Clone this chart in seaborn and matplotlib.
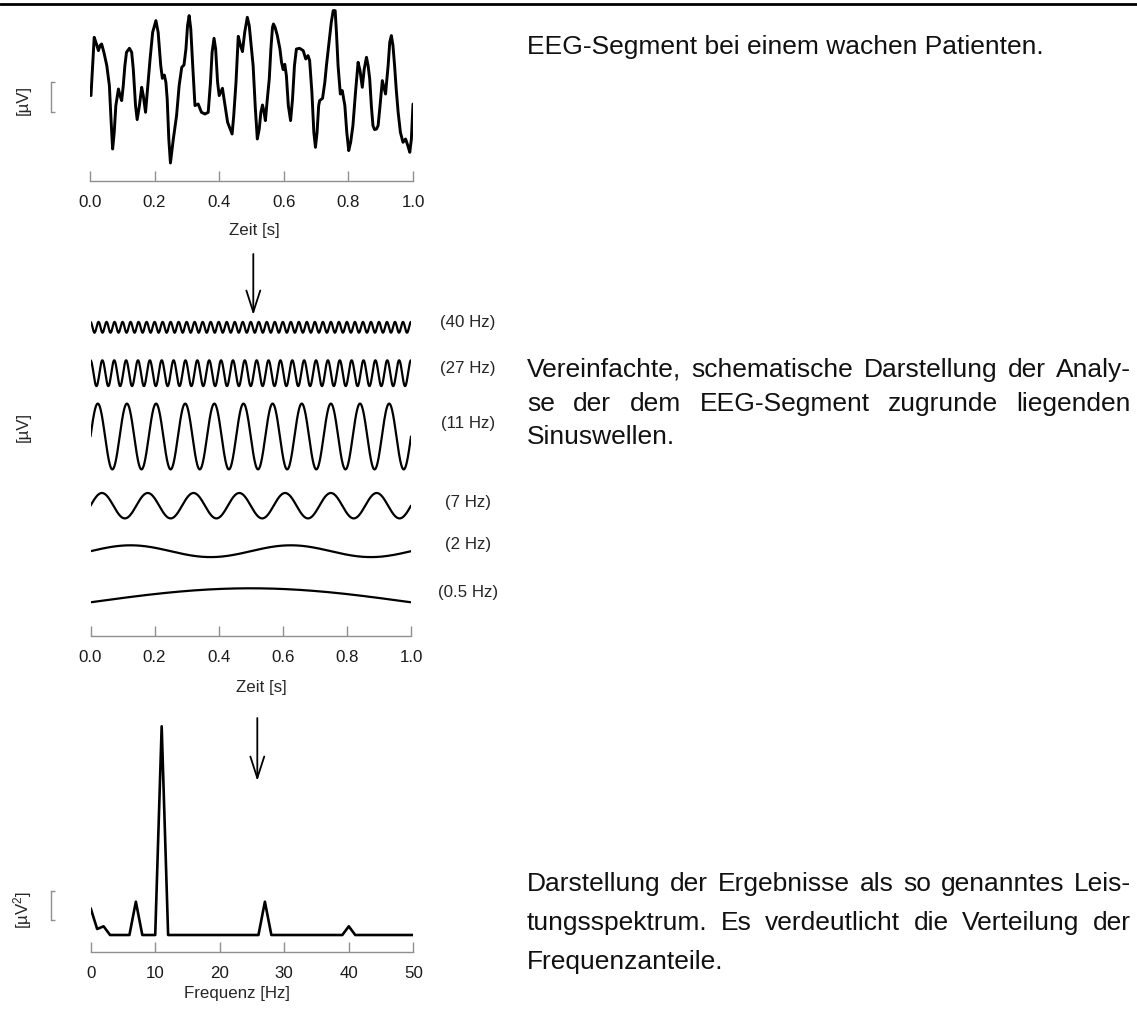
import numpy as np
import pandas as pd
import matplotlib
matplotlib.use("Agg")
import matplotlib.pyplot as plt
import seaborn as sns
from matplotlib.lines import Line2D
from matplotlib.patches import FancyArrowPatch

# ------------------------------------------------------------------ data
eeg_time = [0.003, 0.008, 0.013, 0.020, 0.026, 0.031, 0.036, 0.043, 0.052, 0.060,
            0.065, 0.070, 0.075, 0.080, 0.088, 0.093, 0.098, 0.103, 0.108, 0.113,
            0.122, 0.129, 0.134, 0.141, 0.146, 0.153, 0.160, 0.165, 0.172, 0.178,
            0.186, 0.194, 0.204, 0.211, 0.219, 0.224, 0.230, 0.235, 0.239, 0.244,
            0.249, 0.258, 0.268, 0.276, 0.284, 0.291, 0.297, 0.302, 0.307, 0.312,
            0.318, 0.325, 0.335, 0.345, 0.356, 0.366, 0.373, 0.378, 0.384, 0.389,
            0.395, 0.400, 0.410, 0.418, 0.426, 0.440, 0.445, 0.452, 0.459, 0.466,
            0.472, 0.479, 0.487, 0.493, 0.500, 0.505, 0.512, 0.518, 0.524, 0.529,
            0.534, 0.538, 0.543, 0.549, 0.555, 0.560, 0.565, 0.568, 0.573, 0.580,
            0.588, 0.593, 0.598, 0.603, 0.608, 0.614, 0.621, 0.627, 0.633, 0.639,
            0.649, 0.660, 0.668, 0.675, 0.680, 0.687, 0.693, 0.698, 0.703, 0.708,
            0.711, 0.720, 0.727, 0.732, 0.740, 0.747, 0.753, 0.759, 0.763, 0.768,
            0.775, 0.781, 0.789, 0.795, 0.801, 0.807, 0.814, 0.822, 0.830, 0.836,
            0.843, 0.849, 0.856, 0.861, 0.866, 0.871, 0.876, 0.881, 0.887, 0.892,
            0.898, 0.905, 0.910, 0.915, 0.923, 0.928, 0.933, 0.938, 0.943, 0.948,
            0.954, 0.961, 0.969, 0.977, 0.984, 0.990, 0.995, 1.000]
eeg_uv = [1.7, 31.7, 60.0, 53.3, 46.7, 51.7, 53.3, 45.0, 31.7, 11.7,
          -21.7, -51.7, -35.0, -8.3, 8.3, 1.7, -3.3, 11.7, 31.7, 45.0,
          49.0, 45.0, 28.3, -8.3, -22.3, -8.3, 10.0, 1.7, -15.0, 8.3,
          38.3, 65.0, 76.7, 65.0, 31.7, 19.0, 22.3, 15.0, -1.7, -41.7,
          -65.7, -41.7, -18.3, 11.7, 30.0, 32.3, 48.3, 71.7, 81.7, 68.3,
          31.7, -8.3, -6.7, -15.0, -16.7, -15.0, 15.0, 45.0, 59.0, 48.3,
          15.0, 1.7, 9.0, -8.3, -25.0, -36.7, -18.3, 15.0, 61.0, 51.7,
          45.7, 65.0, 80.0, 71.7, 48.3, 31.7, -11.7, -41.7, -31.7, -15.0,
          -7.7, -13.3, -23.3, -1.7, 18.3, 48.3, 70.0, 73.3, 70.0, 61.7,
          48.3, 35.0, 27.7, 33.0, 21.7, -8.3, -23.3, -1.7, 31.7, 48.3,
          49.0, 46.7, 38.3, 41.7, 36.7, 5.0, -35.0, -50.0, -35.0, -8.3,
          -3.3, -1.0, 15.0, 31.7, 55.0, 75.0, 86.7, 86.7, 65.0, 31.7,
          3.3, 6.7, -8.3, -35.0, -53.3, -45.0, -28.3, 5.0, 35.0, 26.7,
          10.0, 28.3, 40.0, 31.7, 18.3, -8.3, -28.3, -32.3, -31.7, -28.3,
          -8.3, 16.7, 10.0, 3.3, 31.7, 55.0, 61.7, 51.7, 31.7, 8.3,
          -15.0, -35.0, -45.0, -41.7, -48.3, -55.0, -41.7, -6.7]

wave_freqs_hz = [40, 27, 11, 7, 2, 0.5]
wave_amps = [5.4, 12.9, 32.9, 12.7, 5.9, 14.0]
wave_phases = [np.pi / 2, np.pi / 2, 0.0, 0.0, 0.0, 0.0]
wave_labels = ["(40 Hz)", "(27 Hz)", "(11 Hz)", "(7 Hz)", "(2 Hz)", "(0.5 Hz)"]

spec_freq_hz = list(range(51))
spec_power = [26.7, 6.0, 8.7, 0, 0, 0, 0, 33.3, 0, 0,
              0, 208.7, 0, 0, 0, 0, 0, 0, 0, 0,
              0, 0, 0, 0, 0, 0, 0, 33.3, 0, 0,
              0, 0, 0, 0, 0, 0, 0, 0, 0, 0,
              8.7, 0, 0, 0, 0, 0, 0, 0, 0, 0, 0]

time_ticks = [0.0, 0.2, 0.4, 0.6, 0.8, 1.0]
time_ticklabels = ["0.0", "0.2", "0.4", "0.6", "0.8", "1.0"]
freq_ticks = [0, 10, 20, 30, 40, 50]
freq_ticklabels = ["0", "10", "20", "30", "40", "50"]

text_top = ["EEG-Segment bei einem wachen Patienten."]
text_mid = ["Vereinfachte, schematische Darstellung der Analy-",
            "se der dem EEG-Segment zugrunde liegenden",
            "Sinuswellen."]
text_bot = ["Darstellung der Ergebnisse als so genanntes Leis-",
            "tungsspektrum. Es verdeutlicht die Verteilung der",
            "Frequenzanteile."]

# ------------------------------------------------------------------ layout
W, H, DPI = 1137, 1012, 100
GRAY = "#8f8f8f"
sns.set_theme(style="white")
plt.rcParams["font.family"] = ["Liberation Sans", "DejaVu Sans"]
plt.rcParams["mathtext.fontset"] = "custom"
plt.rcParams["mathtext.rm"] = "Liberation Sans"
plt.rcParams["mathtext.it"] = "Liberation Sans"

fig = plt.figure(figsize=(W / DPI, H / DPI), dpi=DPI)
fig.patch.set_facecolor("white")

AX_FS = 12.2
TXT_FS = 19.0


def add_axes_px(x0, x1, ytop, ybot):
    ax = fig.add_axes([x0 / W, 1 - ybot / H, (x1 - x0) / W, (ybot - ytop) / H])
    ax.patch.set_alpha(0)
    return ax


def fx(px):
    return px / W


def fy(py):
    return 1 - py / H


def style_xaxis(ax, ticks, labels, lim):
    ax.set_xlim(*lim)
    ax.set_xticks(ticks)
    ax.set_xticklabels(labels)
    for s in ["top", "right"]:
        ax.spines[s].set_visible(False)
    ax.spines["bottom"].set_color(GRAY)
    ax.spines["bottom"].set_linewidth(1.0)
    ax.spines["bottom"].set_bounds(ticks[0], ticks[-1])
    ax.tick_params(axis="x", bottom=True, direction="in", length=7, width=1.0,
                   color=GRAY, pad=9.5, labelsize=AX_FS, labelcolor="#1a1a1a")
    ax.set_xlabel("")
    ax.set_ylabel("")


def style_scalebar(ax, lo, hi, offset_pt):
    ax.spines["left"].set_position(("outward", offset_pt))
    ax.spines["left"].set_bounds(lo, hi)
    ax.spines["left"].set_color(GRAY)
    ax.spines["left"].set_linewidth(1.0)
    ax.set_yticks([lo, hi])
    ax.set_yticklabels([])
    ax.tick_params(axis="y", left=True, direction="in", length=3.2, width=1.0, color=GRAY)


# ---------------- top panel: EEG segment
ax1 = add_axes_px(90, 413, 8, 182)
df_eeg = pd.DataFrame({"t": eeg_time, "uv": eeg_uv})
sns.lineplot(data=df_eeg, x="t", y="uv", ax=ax1, color="black", lw=2.1,
             estimator=None, sort=False)
for ln in ax1.lines:
    ln.set_solid_joinstyle("round")
ax1.set_ylim(-83.7, 90.3)
style_xaxis(ax1, time_ticks, time_ticklabels, (0, 1))
style_scalebar(ax1, -15, 15, 28.3)
fig.text(fx(254), fy(230), "Zeit [s]", ha="center", va="center", fontsize=AX_FS)
fig.text(fx(23), fy(100), "[µV]", ha="center", va="center", rotation=90, fontsize=AX_FS)

# ---------------- middle panel: component sine waves
ax2 = add_axes_px(90.5, 411, 305, 637)
wave_offsets = [308.7, 262.8, 199.5, 130.3, 84.8, 33.7]  # vertical stacking (layout)
t = np.linspace(0, 1, 3000)
for f, a, ph, off, lab in zip(wave_freqs_hz, wave_amps, wave_phases, wave_offsets, wave_labels):
    dfw = pd.DataFrame({"t": t, "v": off + a * np.sin(2 * np.pi * f * t + ph)})
    sns.lineplot(data=dfw, x="t", y="v", ax=ax2, color="black", lw=1.6,
                 estimator=None, sort=False)
ax2.set_ylim(0, 332)
style_xaxis(ax2, time_ticks, time_ticklabels, (0, 1))
ax2.spines["left"].set_visible(False)
ax2.set_yticks([])
label_y_px = [322.7, 368.5, 423.3, 502.3, 544.3, 593.0]
for lab, ly in zip(wave_labels, label_y_px):
    fig.text(fx(468), fy(ly), lab, ha="center", va="center", fontsize=AX_FS)
fig.text(fx(261), fy(688), "Zeit [s]", ha="center", va="center", fontsize=AX_FS)
fig.text(fx(23), fy(427), "[µV]", ha="center", va="center", rotation=90, fontsize=AX_FS)

# ---------------- bottom panel: power spectrum
ax3 = add_axes_px(90.7, 413.3, 715, 953)
df_sp = pd.DataFrame({"f": spec_freq_hz, "p": spec_power})
sns.lineplot(data=df_sp, x="f", y="p", ax=ax3, color="black", lw=1.9,
             estimator=None, sort=False)
ax3.set_ylim(-17, 221)
style_xaxis(ax3, freq_ticks, freq_ticklabels, (0, 50))
style_scalebar(ax3, 15, 44.5, 28.8)
fig.text(fx(237), fy(994), "Frequenz [Hz]", ha="center", va="center", fontsize=AX_FS)
fig.text(fx(23), fy(910), r"[µV$^2$]", ha="center", va="center", rotation=90, fontsize=AX_FS)

# ---------------- decorations: top rule and arrows
fig.add_artist(Line2D([0, 1], [fy(5.3), fy(5.3)], transform=fig.transFigure,
                      color="black", lw=2.0))
for x_px, y0, y1 in [(253.3, 255, 316), (257.3, 719, 782)]:
    arr = FancyArrowPatch((fx(x_px), fy(y0)), (fx(x_px), fy(y1)),
                          transform=fig.transFigure,
                          arrowstyle="->,head_length=1.55,head_width=0.5",
                          mutation_scale=10, lw=1.3, color="black",
                          shrinkA=0, shrinkB=0)
    fig.add_artist(arr)

# ---------------- right-hand text (justified lines)
renderer = fig.canvas.get_renderer()
LEFT, RIGHT = 527, 1131


def put_line(line, y_px, justify):
    if not justify:
        fig.text(fx(LEFT), fy(y_px), line, ha="left", va="baseline", fontsize=TXT_FS,
                 color="#111111")
        return
    words = line.split(" ")
    objs = [fig.text(0, fy(y_px), w, ha="left", va="baseline", fontsize=TXT_FS,
                     color="#111111") for w in words]
    widths = [o.get_window_extent(renderer).width for o in objs]
    gap = (RIGHT - LEFT - sum(widths)) / (len(words) - 1)
    x = LEFT
    for o, w in zip(objs, widths):
        o.set_x(fx(x))
        x += w + gap


put_line(text_top[0], 54, False)
for line, y, j in zip(text_mid, [377, 411, 444], [True, True, False]):
    put_line(line, y, j)
for line, y, j in zip(text_bot, [891, 930, 969], [True, True, False]):
    put_line(line, y, j)

fig.savefig("out.png", dpi=DPI, facecolor="white")
